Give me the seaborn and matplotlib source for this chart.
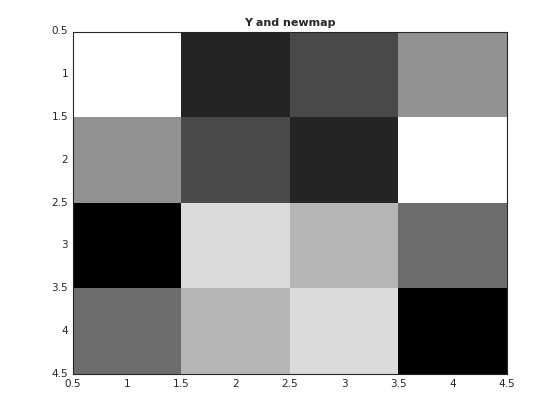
import numpy as np
import pandas as pd
import matplotlib
matplotlib.use("Agg")
import matplotlib.pyplot as plt
import seaborn as sns

# Indexed image values (1..8) into an 8-level gray map
row1 = [8, 2, 3, 5]
row2 = [5, 3, 2, 8]
row3 = [1, 7, 6, 4]
row4 = [4, 6, 7, 1]
tick_labels = ["0.5", "1", "1.5", "2", "2.5", "3", "3.5", "4", "4.5"]

Y = pd.DataFrame([row1, row2, row3, row4])

sns.set_style("white")
plt.rcParams['font.family'] = ['DejaVu Sans']

fig = plt.figure(figsize=(5.6, 4.2), dpi=100)
ax = fig.add_axes([0.13, 0.11, 0.775, 0.815])

newmap = plt.get_cmap("gray", 8)
sns.heatmap(Y, cmap=newmap, vmin=0.5, vmax=8.5, cbar=False, ax=ax,
            square=False, linewidths=0)

pos = np.arange(0, 4.01, 0.5)
ax.set_xticks(pos)
ax.set_yticks(pos)
ax.set_xticklabels(tick_labels, rotation=0)
ax.set_yticklabels(tick_labels, rotation=0)
ax.set_xlim(0, 4)
ax.set_ylim(4, 0)

dark = "#262626"
for s in ax.spines.values():
    s.set_visible(True)
    s.set_color(dark)
    s.set_linewidth(0.8)
ax.tick_params(direction="in", length=4, width=0.6, color=dark,
               labelcolor=dark, labelsize=7.5, top=True, right=True,
               bottom=True, left=True)
ax.set_title("Y and newmap", fontsize=8, fontweight="bold", pad=4)

fig.savefig("out.png", dpi=100)
